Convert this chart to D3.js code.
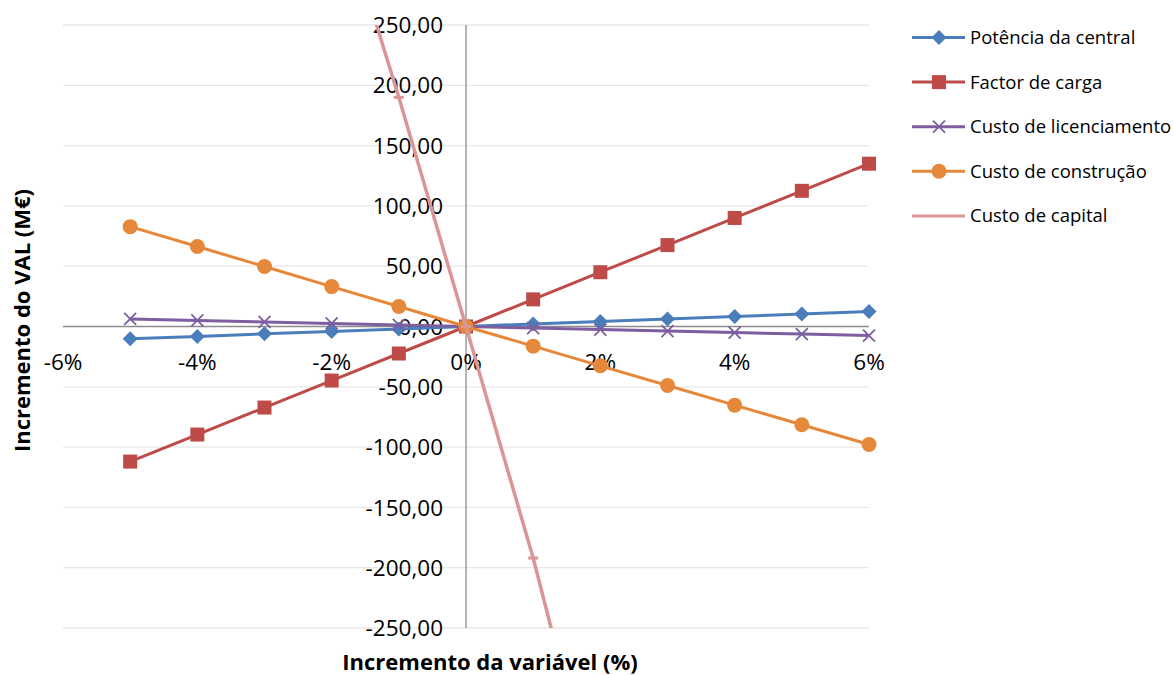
<!DOCTYPE html>
<html>
<head>
<meta charset="utf-8">
<script src="https://cdn.jsdelivr.net/npm/d3@7"></script>
<style>
  body { margin: 0; background: #fff; }
  text { font-family: "Open Sans", "Noto Sans", sans-serif; fill: #000; }
  .grid line { stroke: #e8e8e8; stroke-width: 1.3; }
  .tick-lbl { font-size: 22.5px; }
  .axis_title { font-size: 22px; font-weight: bold; }
  .legend text { font-size: 18.5px; }
</style>
</head>
<body>
<div id="chart"></div>
<script>
// data (increment of each variable, in %)
const xPct = [-5, -4, -3, -2, -1, 0, 1, 2, 3, 4, 5, 6];
const potencia = [-10.2, -8.2, -6.1, -4.1, -2.0, 0, 2.1, 4.1, 6.2, 8.2, 10.3, 12.4];
const factorCarga = [-112.0, -89.6, -67.2, -44.8, -22.4, 0, 22.5, 45.0, 67.5, 90.0, 112.5, 135.0];
const licenciamento = [6.3, 5.0, 3.8, 2.5, 1.3, 0, -1.3, -2.5, -3.8, -5.0, -6.3, -7.5];
const construcao = [82.8, 66.3, 49.7, 33.1, 16.6, 0, -16.3, -32.6, -48.9, -65.2, -81.5, -97.8];
// custo de capital only shows near 0%, the rest is outside the axis range
const capitalX = [-2, -1, 0, 1, 2];
const capital = [371, 190, 0, -192, -409];

const seriesNames = ["Potência da central", "Factor de carga", "Custo de licenciamento", "Custo de construção", "Custo de capital"];
const xTicks = [-6, -4, -2, 0, 2, 4, 6];
const yTicks = [-250, -200, -150, -100, -50, 0, 50, 100, 150, 200, 250];

const width = 1174, height = 675;
const margin = { top: 25, bottom: 47, left: 63, right: 305 };

const series = [
  { name: seriesNames[0], xs: xPct, ys: potencia, color: "#4a7ebb", marker: "diamond" },
  { name: seriesNames[1], xs: xPct, ys: factorCarga, color: "#be4b48", marker: "square" },
  { name: seriesNames[2], xs: xPct, ys: licenciamento, color: "#7d5fa0", marker: "x" },
  { name: seriesNames[3], xs: xPct, ys: construcao, color: "#e6883a", marker: "circle" },
  { name: seriesNames[4], xs: capitalX, ys: capital, color: "#d99694", marker: "dash" }
];

const svg = d3.select("#chart").append("svg")
  .attr("width", width)
  .attr("height", height);

const xscale = d3.scaleLinear().domain([-6, 6]).range([margin.left, width - margin.right]);
const yscale = d3.scaleLinear().domain([-250, 250]).range([height - margin.bottom, margin.top]);

// gridlines
svg.append("g").attr("class", "grid")
  .selectAll("line")
  .data(yTicks.filter(d => d !== 0))
  .join("line")
  .attr("x1", xscale(-6))
  .attr("x2", xscale(6))
  .attr("y1", d => yscale(d))
  .attr("y2", d => yscale(d));

// axes lines through zero
svg.append("line")
  .attr("x1", xscale(-6)).attr("x2", xscale(6))
  .attr("y1", yscale(0)).attr("y2", yscale(0))
  .attr("stroke", "#8c8c8c").attr("stroke-width", 1.3);
svg.append("line")
  .attr("x1", xscale(0)).attr("x2", xscale(0))
  .attr("y1", yscale(250)).attr("y2", yscale(-250))
  .attr("stroke", "#8c8c8c").attr("stroke-width", 1.3);

// tick labels (comma decimals, plain hyphen for minus)
const fmtY = d => d3.format(".2f")(d).replace(".", ",").replace("\u2212", "-");
svg.append("g")
  .selectAll("text")
  .data(yTicks)
  .join("text")
  .attr("class", "tick-lbl")
  .attr("x", xscale(0) - 23)
  .attr("y", d => yscale(d))
  .attr("dy", "0.36em")
  .attr("text-anchor", "end")
  .text(fmtY);

svg.append("g")
  .selectAll("text")
  .data(xTicks)
  .join("text")
  .attr("class", "tick-lbl")
  .attr("x", d => xscale(d))
  .attr("y", yscale(0) + 35)
  .attr("dy", "0.36em")
  .attr("text-anchor", "middle")
  .text(d => d + "%");

// axis titles
svg.append("text")
  .attr("class", "axis_title")
  .attr("x", 490)
  .attr("y", 662)
  .attr("dy", "0.36em")
  .attr("text-anchor", "middle")
  .text("Incremento da variável (%)");

svg.append("text")
  .attr("class", "axis_title")
  .attr("transform", `translate(22, ${yscale(0) - 6}) rotate(-90)`)
  .attr("dy", "0.36em")
  .attr("text-anchor", "middle")
  .text("Incremento do VAL (M€)");

// clip for the lines
svg.append("clipPath").attr("id", "plotclip")
  .append("rect")
  .attr("x", 0)
  .attr("y", yscale(250))
  .attr("width", width - margin.right + 10)
  .attr("height", yscale(-250) - yscale(250));

const lineFunc = d3.line()
  .x(d => xscale(d[0]))
  .y(d => yscale(d[1]));

function drawMarker(g, type, color) {
  if (type === "diamond") {
    g.append("path").attr("d", "M0,-7.5L7.5,0L0,7.5L-7.5,0Z").attr("fill", color);
  } else if (type === "square") {
    g.append("rect").attr("x", -7).attr("y", -7).attr("width", 14).attr("height", 14).attr("fill", color);
  } else if (type === "x") {
    g.append("path").attr("d", "M-6,-6L6,6M-6,6L6,-6").attr("stroke", color).attr("stroke-width", 1.8).attr("fill", "none");
  } else if (type === "circle") {
    g.append("circle").attr("r", 7.5).attr("fill", color);
  } else if (type === "dash") {
    g.append("rect").attr("x", -5).attr("y", -1.5).attr("width", 10).attr("height", 3).attr("fill", color);
  }
}

const plot = svg.append("g").attr("clip-path", "url(#plotclip)");

series.forEach(s => {
  const pts = s.xs.map((x, i) => [x, s.ys[i]]);
  plot.append("path")
    .datum(pts)
    .attr("fill", "none")
    .attr("stroke", s.color)
    .attr("stroke-width", s.marker === "dash" ? 3.5 : 3)
    .attr("stroke-linejoin", "round")
    .attr("d", lineFunc);
  plot.selectAll(null)
    .data(pts)
    .join("g")
    .attr("transform", d => `translate(${xscale(d[0])},${yscale(d[1])})`)
    .each(function () { drawMarker(d3.select(this), s.marker, s.color); });
});

// legend
const legend = svg.append("g").attr("class", "legend");
series.forEach((s, i) => {
  const yy = 37.5 + i * 44.6;
  const row = legend.append("g");
  row.append("line")
    .attr("x1", 912).attr("x2", 965)
    .attr("y1", yy).attr("y2", yy)
    .attr("stroke", s.color).attr("stroke-width", 3);
  if (s.marker !== "dash") {
    drawMarker(row.append("g").attr("transform", `translate(939,${yy})`), s.marker, s.color);
  }
  row.append("text")
    .attr("x", 970)
    .attr("y", yy)
    .attr("dy", "0.35em")
    .text(s.name);
});
</script>
</body>
</html>
